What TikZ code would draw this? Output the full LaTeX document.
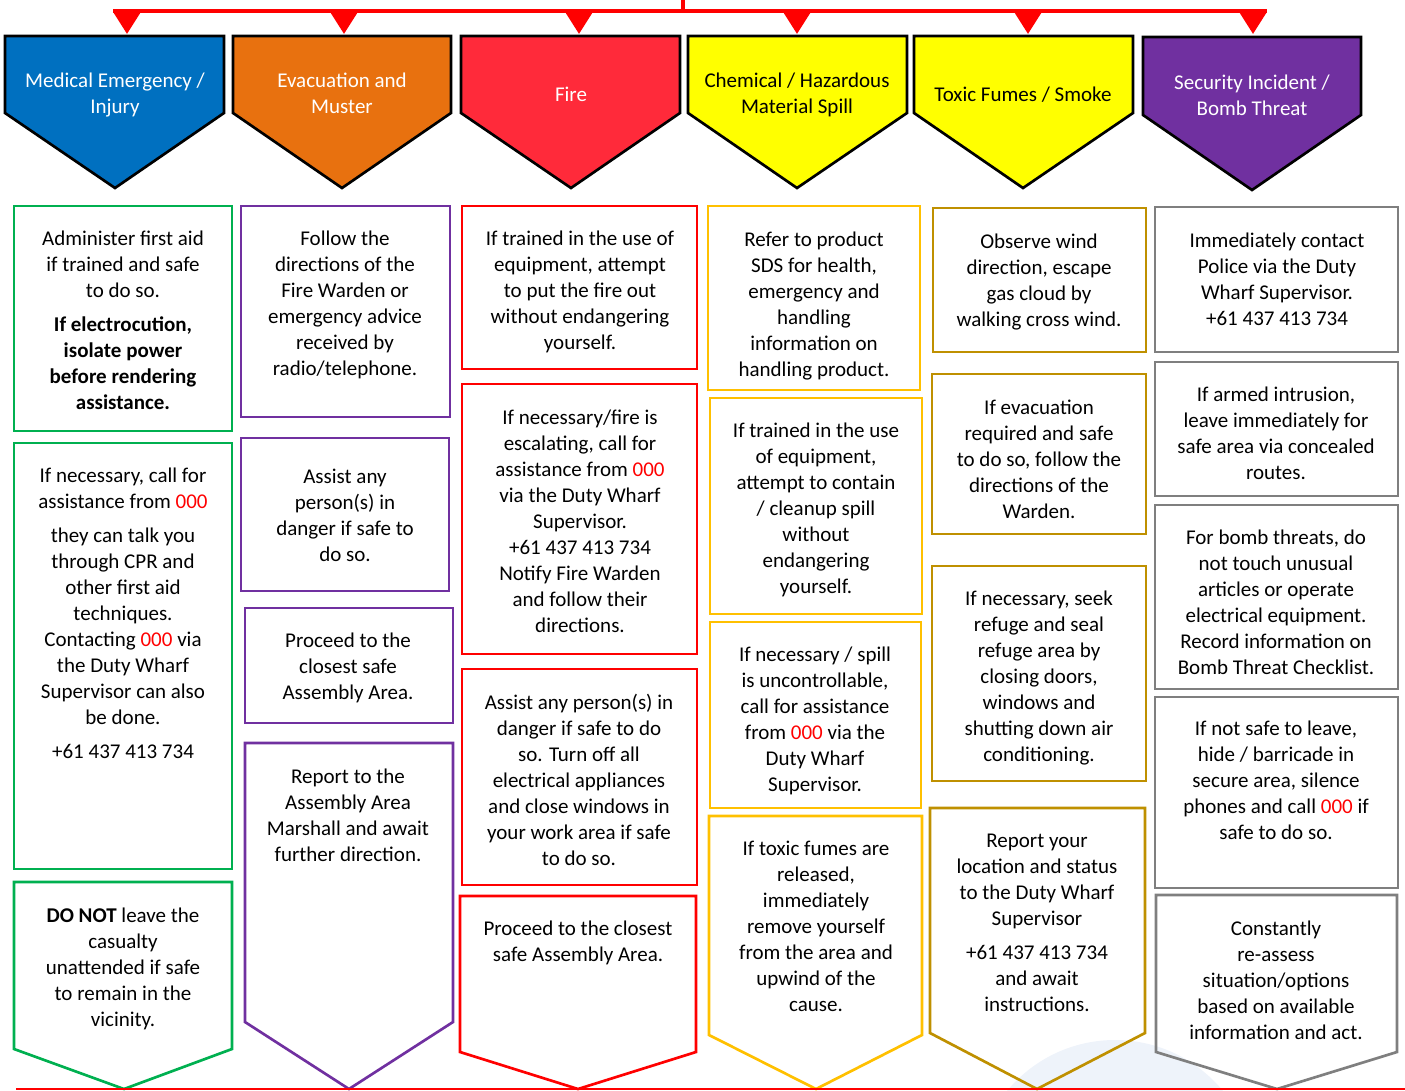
\documentclass[tikz,border=0pt]{standalone}
\usepackage{fontspec}
\setmainfont{Carlito}
\usetikzlibrary{arrows.meta}
\definecolor{medblue}{HTML}{0070C0}
\definecolor{evorange}{HTML}{E8710F}
\definecolor{firered}{HTML}{FF2A3A}
\definecolor{hazyellow}{HTML}{FFFF00}
\definecolor{secpurple}{HTML}{7030A0}
\definecolor{cgreen}{HTML}{00B050}
\definecolor{cpurple}{HTML}{7030A0}
\definecolor{cred}{HTML}{FF0000}
\definecolor{cgold}{HTML}{FFC000}
\definecolor{cdgold}{HTML}{BF9000}
\definecolor{cgray}{HTML}{7F7F7F}
\definecolor{wmark}{HTML}{EEF3FA}
\newcommand{\zzz}{\textcolor{cred}{000}}
\begin{document}
\begin{tikzpicture}[x=0.75pt,y=-0.75pt,
  hdr/.style={draw=black,line width=2pt,line join=miter},
  boxline/.style={line width=2pt,line join=miter},
  txt/.style={anchor=north,align=center,inner sep=0pt,yshift=-2.25pt,font=\fontsize{15.75pt}{19.5pt}\selectfont},
  htxt/.style={txt,text=white},
  barline/.style={draw=cred,line width=3pt},
  redarrow/.style={draw=cred,line width=3pt,-{Triangle[width=20pt,length=16.5pt]}}
]
\useasboundingbox (0,0) rectangle (1405,1091);
% faint watermark
\begin{scope}
\clip (0,0) rectangle (1405,1091);
\fill[wmark] (1115,1180) circle[radius=140];
\end{scope}

% ---------- top bar and arrows ----------
\coordinate (stub) at (683,0);
\coordinate (barmid) at (683,11);
\coordinate (barL) at (113,11);
\coordinate (barR) at (1267,11);
\draw[barline] (barL) -- (barR);
\draw[barline] (stub) -- (barmid);
\foreach \n/\x in {1/127,2/344,3/579,4/797,5/1028,6/1253}{
  \coordinate (a\n) at (\x,11);
  \coordinate (t\n) at (\x,34);
  \draw[redarrow] (a\n) -- (t\n);
}

% ---------- headers ----------
\draw[hdr,fill=medblue] (5,36) -- (224,36) -- (224,113) -- (115,188) -- (5,113) -- cycle;
\draw[hdr,fill=evorange] (233,36) -- (451,36) -- (451,113) -- (342,188) -- (233,113) -- cycle;
\draw[hdr,fill=firered] (461,36) -- (680,36) -- (680,113) -- (571,188) -- (461,113) -- cycle;
\draw[hdr,fill=hazyellow] (688,36) -- (907,36) -- (907,113) -- (797,188) -- (688,113) -- cycle;
\draw[hdr,fill=hazyellow] (914,36) -- (1133,36) -- (1133,113) -- (1023,188) -- (914,113) -- cycle;
\draw[hdr,fill=secpurple] (1143,37) -- (1361,37) -- (1361,115) -- (1252,190) -- (1143,115) -- cycle;

\node[htxt] (h1) at (115,70) {Medical Emergency /\\Injury};
\node[htxt] (h2) at (342,70) {Evacuation and\\Muster};
\node[htxt] (h3) at (571,84) {Fire};
\node[txt] (h4) at (797,70) {Chemical / Hazardous\\Material Spill};
\node[txt] (h5) at (1023,84) {Toxic Fumes / Smoke};
\node[htxt] (h6) at (1252,72) {Security Incident /\\Bomb Threat};

% ---------- column 1 (green) ----------
\draw[boxline,draw=cgreen] (14,206) rectangle (232,431);
\draw[boxline,draw=cgreen] (14,443) rectangle (232,869);
\draw[boxline,draw=cgreen] (14,882) -- (232,882) -- (232,1049) -- (124,1089) -- (14,1049) -- cycle;
\node[txt] (c1a) at (123,228) {Administer first aid\\if trained and safe\\to do so.\\[6pt]\textbf{If electrocution,}\\\textbf{isolate power}\\\textbf{before rendering}\\\textbf{assistance.}};
\node[txt] (c1b) at (123,465) {If necessary, call for\\assistance from \zzz\\[6pt]they can talk you\\through CPR and\\other first aid\\techniques.\\Contacting \zzz{} via\\the Duty Wharf\\Supervisor can also\\be done.\\[6pt]+61 437 413 734};
\node[txt] (c1c) at (123,905) {\textbf{DO NOT} leave the\\casualty\\unattended if safe\\to remain in the\\vicinity.};

% ---------- column 2 (purple) ----------
\draw[boxline,draw=cpurple] (241,206) rectangle (450,417);
\draw[boxline,draw=cpurple] (241,438) rectangle (449,591);
\draw[boxline,draw=cpurple] (245,608) rectangle (453,723);
\draw[boxline,draw=cpurple] (245,743) -- (453,743) -- (453,1022) -- (349,1089) -- (245,1022) -- cycle;
\node[txt] (c2a) at (345,228) {Follow the\\directions of the\\Fire Warden or\\emergency advice\\received by\\radio/telephone.};
\node[txt] (c2b) at (345,466) {Assist any\\person(s) in\\danger if safe to\\do so.};
\node[txt] (c2c) at (348,630) {Proceed to the\\closest safe\\Assembly Area.};
\node[txt] (c2d) at (348,766) {Report to the\\Assembly Area\\Marshall and await\\further direction.};

% ---------- column 3 (red) ----------
\draw[boxline,draw=cred] (462,206) rectangle (697,369);
\draw[boxline,draw=cred] (462,384) rectangle (697,654);
\draw[boxline,draw=cred] (462,669) rectangle (697,885);
\draw[boxline,draw=cred] (460,896) -- (696,896) -- (696,1052) -- (578,1089) -- (460,1052) -- cycle;
\node[txt] (c3a) at (580,228) {If trained in the use of\\equipment, attempt\\to put the fire out\\without endangering\\yourself.};
\node[txt] (c3b) at (580,407) {If necessary/fire is\\escalating, call for\\assistance from \zzz\\via the Duty Wharf\\Supervisor.\\+61 437 413 734\\Notify Fire Warden\\and follow their\\directions.};
\node[txt] (c3c) at (579,691) {Assist any person(s) in\\danger if safe to do\\so. Turn off all\\electrical appliances\\and close windows in\\your work area if safe\\to do so.};
\node[txt] (c3d) at (578,918) {Proceed to the closest\\safe Assembly Area.};

% ---------- column 4 (gold) ----------
\draw[boxline,draw=cgold] (708,206) rectangle (920,390);
\draw[boxline,draw=cgold] (710,398) rectangle (922,614);
\draw[boxline,draw=cgold] (710,622) rectangle (921,808);
\draw[boxline,draw=cgold] (709,816) -- (922,816) -- (922,1035) -- (816,1089) -- (709,1035) -- cycle;
\node[txt] (c4a) at (814,229) {Refer to product\\SDS for health,\\emergency and\\handling\\information on\\handling product.};
\node[txt] (c4b) at (816,420) {If trained in the use\\of equipment,\\attempt to contain\\/ cleanup spill\\without\\endangering\\yourself.};
\node[txt] (c4c) at (815,644) {If necessary / spill\\is uncontrollable,\\call for assistance\\from \zzz{} via the\\Duty Wharf\\Supervisor.};
\node[txt] (c4d) at (816,838) {If toxic fumes are\\released,\\immediately\\remove yourself\\from the area and\\upwind of the\\cause.};

% ---------- column 5 (dark gold) ----------
\draw[boxline,draw=cdgold] (933,208) rectangle (1146,352);
\draw[boxline,draw=cdgold] (932,374) rectangle (1146,534);
\draw[boxline,draw=cdgold] (932,566) rectangle (1146,781);
\draw[boxline,draw=cdgold] (930,808) -- (1145,808) -- (1145,1033) -- (1037,1089) -- (930,1033) -- cycle;
\node[txt] (c5a) at (1039,231) {Observe wind\\direction, escape\\gas cloud by\\walking cross wind.};
\node[txt] (c5b) at (1039,397) {If evacuation\\required and safe\\to do so, follow the\\directions of the\\Warden.};
\node[txt] (c5c) at (1039,588) {If necessary, seek\\refuge and seal\\refuge area by\\closing doors,\\windows and\\shutting down air\\conditioning.};
\node[txt] (c5d) at (1037,831) {Report your\\location and status\\to the Duty Wharf\\Supervisor\\[6pt]+61 437 413 734\\and await\\instructions.};

% ---------- column 6 (gray) ----------
\draw[boxline,draw=cgray] (1155,207) rectangle (1398,352);
\draw[boxline,draw=cgray] (1155,362) rectangle (1398,496);
\draw[boxline,draw=cgray] (1155,505) rectangle (1398,689);
\draw[boxline,draw=cgray] (1155,697) rectangle (1398,888);
\draw[boxline,draw=cgray] (1156,895) -- (1397,895) -- (1397,1052) -- (1277,1089) -- (1156,1052) -- cycle;
\node[txt] (c6a) at (1277,230) {Immediately contact\\Police via the Duty\\Wharf Supervisor.\\+61 437 413 734};
\node[txt] (c6b) at (1276,384) {If armed intrusion,\\leave immediately for\\safe area via concealed\\routes.};
\node[txt] (c6c) at (1276,527) {For bomb threats, do\\not touch unusual\\articles or operate\\electrical equipment.\\Record information on\\Bomb Threat Checklist.};
\node[txt] (c6d) at (1276,718) {If not safe to leave,\\hide / barricade in\\secure area, silence\\phones and call \zzz{} if\\safe to do so.};
\node[txt] (c6e) at (1276,918) {Constantly\\re-assess\\situation/options\\based on available\\information and act.};

% ---------- bottom line ----------
\coordinate (botL) at (16,1089);
\coordinate (botR) at (1405,1089);
\draw[draw=cred,line width=1.2pt] (botL) -- (botR);
\end{tikzpicture}
\end{document}
